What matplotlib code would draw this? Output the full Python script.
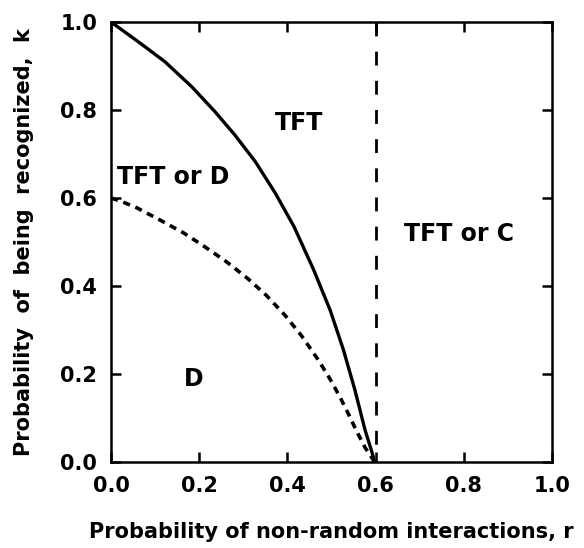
import matplotlib
matplotlib.use("Agg")
import matplotlib.pyplot as plt

# values
r_solid = [0.0, 0.062, 0.122, 0.183, 0.236, 0.281, 0.327, 0.372, 0.415,
           0.459, 0.497, 0.527, 0.553, 0.576, 0.590, 0.598]
k_solid = [1.0, 0.955, 0.910, 0.853, 0.796, 0.743, 0.683, 0.612, 0.535,
           0.438, 0.345, 0.255, 0.164, 0.073, 0.028, 0.0]

r_dash = [0.0, 0.024, 0.058, 0.111, 0.164, 0.213, 0.262, 0.310, 0.353,
          0.395, 0.432, 0.470, 0.497, 0.519, 0.538, 0.557, 0.576, 0.598]
k_dash = [0.600, 0.592, 0.578, 0.550, 0.521, 0.489, 0.455, 0.417, 0.378,
          0.333, 0.287, 0.232, 0.188, 0.148, 0.110, 0.070, 0.033, 0.0]

r_crit = 0.6

regions = ["TFT", "TFT or D", "D", "TFT or C"]
region_x = [0.426, 0.141, 0.187, 0.789]
region_y = [0.770, 0.648, 0.189, 0.518]

ticks = [0.0, 0.2, 0.4, 0.6, 0.8, 1.0]

plt.rcParams['font.family'] = 'DejaVu Sans'
plt.rcParams['font.weight'] = 'bold'

fig = plt.figure(figsize=(5.84, 5.48), dpi=100)
ax = fig.add_axes([111/584, 86/548, 441/584, 440/548])

ax.plot(r_solid, k_solid, color='black', lw=2.4, solid_capstyle='butt')
ax.plot(r_dash, k_dash, color='black', lw=2.6, ls=(0, (2.0, 1.6)))
ax.plot([r_crit, r_crit], [1.0, 0.0], color='black', lw=2.0, ls=(0, (5.0, 5.5)))

for name, x, y in zip(regions, region_x, region_y):
    ax.text(x, y, name, fontsize=17, fontweight='bold', ha='center', va='center')

ax.set_xlim(0, 1)
ax.set_ylim(0, 1)
ax.set_xticks(ticks)
ax.set_yticks(ticks)
ax.set_xticklabels(["%.1f" % t for t in ticks])
ax.set_yticklabels(["%.1f" % t for t in ticks])
ax.tick_params(direction='in', length=7, width=1.8, top=True, right=True,
               labelsize=15, pad=10)
for s in ax.spines.values():
    s.set_linewidth(1.8)

ax.set_xlabel("Probability of non-random interactions, r", fontsize=15,
              fontweight='bold', labelpad=19)
ax.set_ylabel("Probability  of  being  recognized,  k", fontsize=15,
              fontweight='bold', labelpad=19)

fig.savefig("out.png", dpi=100)
